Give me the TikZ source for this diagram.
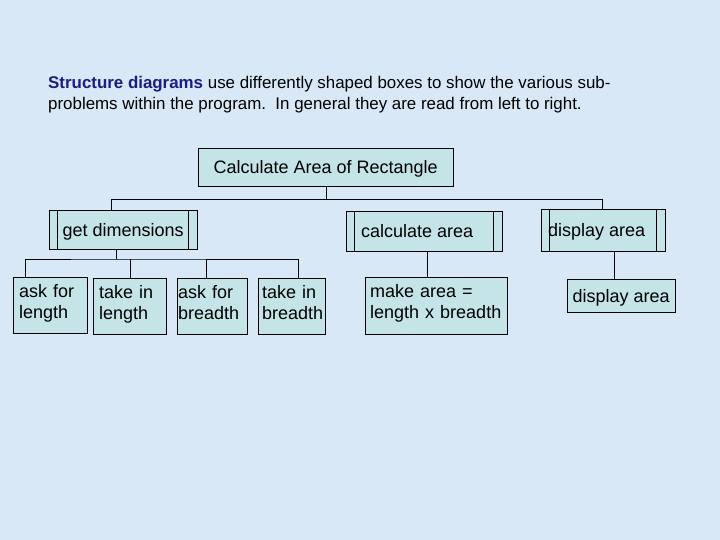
\documentclass[tikz,border=0pt]{standalone}
\usepackage{fontspec}
\setmainfont{Liberation Sans}

\begin{document}
\begin{tikzpicture}[x=1pt, y=-1pt,
  box/.style={draw, fill=boxfill, anchor=north west, inner sep=0pt, text height=13pt, text depth=0pt, font=\fontsize{18}{21}\selectfont},
  subbox/.style={box, path picture={
      \draw ([xshift=8pt]path picture bounding box.north west) -- ([xshift=8pt]path picture bounding box.south west);
      \draw ([xshift=-9pt]path picture bounding box.north east) -- ([xshift=-9pt]path picture bounding box.south east);}},
  leaf/.style={box, align=left, text width=#1, minimum width=#1, text height=20pt, text depth=36pt}]

\definecolor{bgblue}{RGB}{216,232,247}
\definecolor{boxfill}{RGB}{196,228,232}
\definecolor{headblue}{RGB}{28,28,130}

\fill[bgblue] (0,0) rectangle (720,540);
\useasboundingbox (0,0) rectangle (720,540);

% Einleitung
\node[anchor=north west, align=left, inner sep=0pt, font=\fontsize{16.9}{21}\selectfont] (intro) at (48,76)
  {\textcolor{headblue}{\textbf{Structure diagrams}} use differently shaped boxes to show the various sub-\\
   problems within the program.\ \ In general they are read from left to right.};

% Hauptprogramm
\node[box, minimum width=255pt, minimum height=38pt] (main) at (198,148) {Calculate Area of Rectangle};

% Teilprobleme
\node[subbox, minimum width=148pt, minimum height=39pt] (getdim) at (49,210) {get dimensions};
\node[subbox, minimum width=156pt, minimum height=40pt] (calc) at (346,211) {calculate area\hspace*{14pt}};
\node[subbox, minimum width=124pt, minimum height=42pt] (disp) at (541,209) {display area\hspace*{13pt}};

% Blaetter
\node[leaf=74pt] (asklen) at (13,277) {\hspace*{6pt}ask for\\\hspace*{6pt}length};
\node[leaf=73pt] (takelen) at (93,278) {\hspace*{6pt}take in\\\hspace*{6pt}length};
\node[leaf=70pt] (askbr) at (177,278) {\hspace*{1pt}ask for\\\hspace*{1pt}breadth};
\node[leaf=67pt] (takebr) at (258,278) {\hspace*{4pt}take in\\\hspace*{4pt}breadth};
\node[leaf=142pt, text depth=37pt] (makearea) at (365,277) {\hspace*{5pt}make area =\\\hspace*{5pt}length x breadth};
\node[box, minimum width=108pt, minimum height=33pt] (showarea) at (567,279) {display area};

% Verbindungen
\coordinate (bar1) at (main.south |- 0,199);
\draw (main.south) -- (bar1);
\draw (getdim.north -| 111,0) |- (bar1);
\draw (bar1) -| (disp.north -| 602,0);
\draw (calc.north -| 411,0) -- (calc.north -| 411,199);

\coordinate (bar2) at (116,259);
\draw (getdim.south -| bar2) -- (bar2);
\draw (asklen.north -| 25,0) |- (bar2) -| (takebr.north -| 298,0);
\draw (takelen.north -| 130,0) -- (130,259);
\draw (askbr.north -| 206,0) -- (206,259);

\draw (calc.south -| 427,0) -- (makearea.north -| 427,0);
\draw (disp.south -| 614,0) -- (showarea.north -| 614,0);

\end{tikzpicture}
\end{document}
